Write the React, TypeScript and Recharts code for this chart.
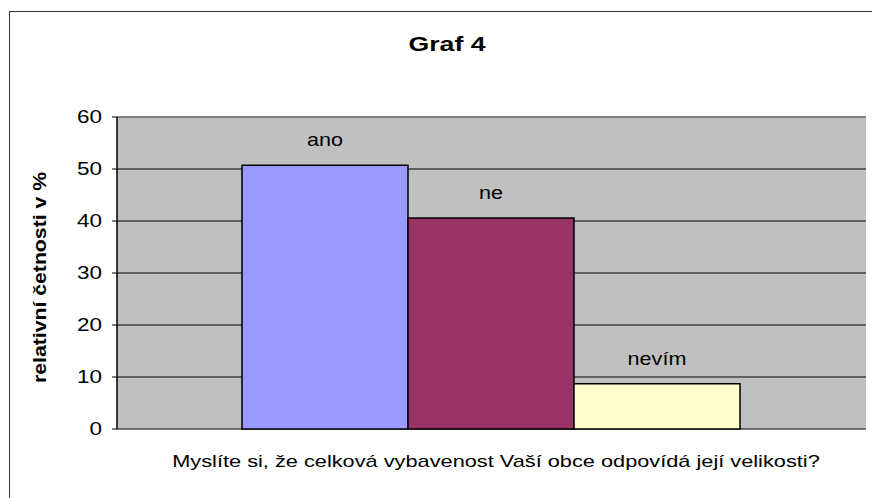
import React from 'react';
import { BarChart, Bar, XAxis, YAxis, CartesianGrid, ReferenceLine, LabelList } from 'recharts';

/* ── Data ───────────────────────────────────────────────────────── */
const categories = ['Myslíte si, že celková vybavenost Vaší obce odpovídá její velikosti?'];
const seriesNames = ['ano', 'ne', 'nevím'];
const seriesValues = [50.7, 40.6, 8.7];
const seriesColors = ['#9999FF', '#993366', '#FFFFCC'];
const yTicks = [0, 10, 20, 30, 40, 50, 60];
const edgeTicks = [0, 1];

const chartTitle = 'Graf 4';
const yTitle = 'relativní četnosti v %';

const data = categories.map((c) => {
  const row: Record<string, string | number> = { category: c };
  seriesNames.forEach((n, i) => {
    row[n] = seriesValues[i];
  });
  return row;
});

const font = 'Arial, "Liberation Sans", sans-serif';

/* the source picture has its text stretched sideways a bit */
const stretch = (x: number, y: number, k: number) =>
  `translate(${x},${y}) scale(${k},1) translate(${-x},${-y})`;

const YTick = (props: any) => {
  const { x, y, payload } = props;
  return (
    <text
      x={x}
      y={y}
      dy="0.355em"
      textAnchor="end"
      fontFamily={font}
      fontSize={18}
      fill="#000"
      transform={stretch(x, y, 1.25)}
    >
      {payload.value}
    </text>
  );
};

const makeBarLabel = (name: string) => (props: any) => {
  const { x, y, width } = props;
  const cx = Number(x) + Number(width) / 2;
  const by = Number(y) - 19;
  return (
    <text
      x={cx}
      y={by}
      textAnchor="middle"
      fontFamily={font}
      fontSize={18}
      fill="#000"
      transform={stretch(cx, by, 1.2)}
    >
      {name}
    </text>
  );
};

export default function App() {
  return (
    <div
      style={{
        position: 'absolute',
        left: 0,
        top: 0,
        width: 872,
        height: 498,
        overflow: 'hidden',
        background: '#fff',
        fontFamily: font,
      }}
    >
      {/* outer chart frame (runs past right/bottom edge) */}
      <div
        style={{
          position: 'absolute',
          left: 9,
          top: 11,
          width: 900,
          height: 520,
          borderTop: '1.5px solid #333',
          borderLeft: '1.5px solid #333',
        }}
      />

      <div style={{ position: 'absolute', left: 0, top: 0 }}>
        <BarChart
          width={872}
          height={498}
          data={data}
          margin={{ top: 117, right: 6, bottom: 69, left: 57 }}
          barCategoryGap={125}
          barGap={0}
        >
          <CartesianGrid
            vertical={false}
            fill="#C0C0C0"
            fillOpacity={1}
            stroke="#000"
            strokeWidth={1}
          />
          <XAxis dataKey="category" hide />
          <XAxis
            xAxisId="edge"
            type="number"
            domain={[0, 1]}
            ticks={edgeTicks}
            allowDataOverflow
            height={0}
            tick={false}
            tickSize={6}
            tickLine={{ stroke: '#000' }}
            axisLine={{ stroke: '#000', strokeWidth: 1.5 }}
          />
          <YAxis
            domain={[0, 60]}
            ticks={yTicks}
            interval={0}
            width={60}
            tickSize={5}
            tickMargin={10}
            tickLine={{ stroke: '#000' }}
            axisLine={{ stroke: '#000', strokeWidth: 1.5 }}
            tick={<YTick />}
          />
          <YAxis
            yAxisId="r"
            orientation="right"
            domain={[0, 60]}
            width={0}
            tick={false}
            tickLine={false}
            axisLine={{ stroke: '#808080', strokeWidth: 2 }}
          />
          <ReferenceLine y={60} stroke="#808080" strokeWidth={2} />
          {seriesNames.map((name, i) => (
            <Bar
              key={name}
              dataKey={name}
              fill={seriesColors[i]}
              stroke="#000"
              strokeWidth={1.5}
              isAnimationActive={false}
            >
              <LabelList dataKey={name} content={makeBarLabel(name)} />
            </Bar>
          ))}
        </BarChart>
      </div>

      {/* titles */}
      <svg
        width={872}
        height={498}
        style={{ position: 'absolute', left: 0, top: 0, pointerEvents: 'none' }}
      >
        <text
          x={447}
          y={51}
          textAnchor="middle"
          fontFamily={font}
          fontWeight="bold"
          fontSize={21}
          fill="#000"
          transform={stretch(447, 51, 1.27)}
        >
          {chartTitle}
        </text>
        <text
          x={496}
          y={467}
          textAnchor="middle"
          fontFamily={font}
          fontSize={17}
          fill="#000"
          transform={stretch(496, 467, 1.28)}
        >
          {categories[0]}
        </text>
        <text
          transform="translate(46, 277.5) rotate(-90) scale(1.18, 1)"
          textAnchor="middle"
          fontFamily={font}
          fontWeight="bold"
          fontSize={18}
          fill="#000"
        >
          {yTitle}
        </text>
      </svg>
    </div>
  );
}
